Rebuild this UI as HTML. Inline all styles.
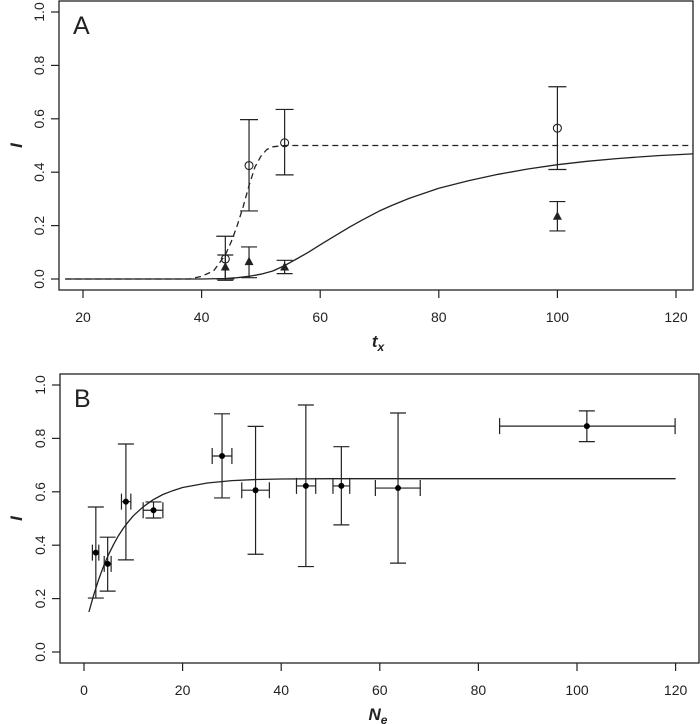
<!DOCTYPE html>
<html><head><meta charset="utf-8"><style>
body{margin:0;background:#fff;}
svg{display:block;font-family:"Liberation Sans",sans-serif;}
text{fill:#222;}
</style></head><body>
<svg id="chart" width="700" height="724" viewBox="0 0 700 724"></svg>
<script>
// Panel A data
const aCircleX = [44, 48, 54, 100];
const aCircleY = [0.075, 0.425, 0.51, 0.565];
const aCircleLo = [0.0, 0.255, 0.39, 0.41];
const aCircleHi = [0.16, 0.597, 0.635, 0.72];
const aTriX = [44, 48, 54, 100];
const aTriY = [0.045, 0.065, 0.045, 0.235];
const aTriLo = [-0.005, 0.005, 0.02, 0.18];
const aTriHi = [0.09, 0.12, 0.07, 0.29];
const aSolidX = [17, 40, 44, 46, 48, 50, 52, 54, 56, 58, 60, 62, 65, 67, 70, 72, 75, 80, 85, 90, 95, 100, 105, 110, 117, 124];
const aSolidY = [0, 0, 0.002, 0.005, 0.01, 0.018, 0.03, 0.05, 0.075, 0.1, 0.128, 0.155, 0.195, 0.22, 0.255, 0.275, 0.302, 0.34, 0.368, 0.392, 0.412, 0.428, 0.441, 0.451, 0.462, 0.47];
const aDashX = [17, 38, 40, 42, 44, 45, 46, 47, 48, 49, 50, 51, 52, 54, 124];
const aDashY = [0, 0, 0.01, 0.03, 0.09, 0.14, 0.2, 0.27, 0.35, 0.42, 0.46, 0.485, 0.495, 0.5, 0.5];
const aXTicks = [20, 40, 60, 80, 100, 120];
const yTicks = [0, 0.2, 0.4, 0.6, 0.8, 1.0];
const yTickLabels = ["0.0", "0.2", "0.4", "0.6", "0.8", "1.0"];
// Panel B data
const bX = [2.4, 4.8, 8.5, 14.1, 28.0, 34.8, 45.0, 52.2, 63.7, 102.0];
const bY = [0.372, 0.33, 0.563, 0.531, 0.734, 0.606, 0.622, 0.622, 0.614, 0.846];
const bXLo = [1.7, 4.1, 7.6, 12.0, 26.0, 32.0, 43.1, 50.5, 59.1, 84.3];
const bXHi = [3.0, 5.5, 9.5, 16.0, 30.0, 37.6, 47.0, 53.9, 68.2, 119.9];
const bYLo = [0.202, 0.228, 0.345, 0.502, 0.577, 0.366, 0.32, 0.476, 0.333, 0.788];
const bYHi = [0.543, 0.43, 0.779, 0.562, 0.892, 0.845, 0.925, 0.769, 0.895, 0.903];
const bCurveX = [1, 2, 3, 4, 5, 6, 7, 8, 9, 10, 12, 14, 16, 18, 20, 25, 30, 35, 40, 50, 120];
const bCurveY = [0.15, 0.216, 0.273, 0.323, 0.366, 0.403, 0.436, 0.464, 0.488, 0.51, 0.544, 0.57, 0.59, 0.604, 0.616, 0.633, 0.642, 0.646, 0.648, 0.649, 0.649];
const bXTicks = [0, 20, 40, 60, 80, 100, 120];

const svg = document.getElementById('chart');
const NS = 'http://www.w3.org/2000/svg';
function mk(tag, attrs, parent) {
  const e = document.createElementNS(NS, tag);
  for (const k in attrs) e.setAttribute(k, attrs[k]);
  (parent || svg).appendChild(e);
  return e;
}
const col = '#222';

function panel(p) {
  const g = mk('g', {});
  
  
  const box = mk('rect', {x: p.left, y: p.top, width: p.right - p.left, height: p.bottom - p.top, fill: 'none', stroke: col, 'stroke-width': 1.3}, g);
  
  
  p.xTicks.forEach(v => {
    const x = p.sx(v);
    const t = mk('line', {x1: x, x2: x, y1: p.bottom, y2: p.bottom + 8, stroke: col, 'stroke-width': 1.2}, g);
    
    
    const l = mk('text', {x: x, y: p.bottom + 32, 'text-anchor': 'middle', 'font-size': 14}, g);
    l.textContent = String(v);
    
    
  });
  yTicks.forEach((v, i) => {
    const y = p.sy(v);
    const t = mk('line', {x1: p.left - 8, x2: p.left, y1: y, y2: y, stroke: col, 'stroke-width': 1.2}, g);
    
    
    const l = mk('text', {x: 0, y: 0, 'text-anchor': 'middle', 'font-size': 14, transform: `translate(${p.left - 15},${y}) rotate(-90)`}, g);
    l.textContent = yTickLabels[i];
    
    
  });
  const tag = mk('text', {x: p.left + 14, y: p.top + 33, 'font-size': 25}, g);
  tag.textContent = p.letter;
  
  
  const yl = mk('text', {x: 0, y: 0, 'text-anchor': 'middle', 'font-size': 17, 'font-weight': 'bold', 'font-style': 'italic', transform: `translate(22,${(p.top + p.bottom) / 2}) rotate(-90)`}, g);
  yl.textContent = 'I';
  
  
  const xl = mk('text', {x: p.xLabelX, y: p.bottom + 57, 'text-anchor': 'middle', 'font-size': 17, 'font-weight': 'bold', 'font-style': 'italic'}, g);
  xl.innerHTML = p.xLabel + '<tspan font-size="12" dy="4">' + p.xSub + '</tspan>';
  
  
  return g;
}
function pathFrom(xs, ys, sx, sy) {
  return xs.map((v, i) => (i ? 'L' : 'M') + sx(v).toFixed(1) + ',' + sy(ys[i]).toFixed(1)).join(' ');
}
function vErr(g, x, y1, y2, w, name) {
  const e = mk('path', {d: `M${x},${y1} L${x},${y2} M${x - w},${y1} L${x + w},${y1} M${x - w},${y2} L${x + w},${y2}`, stroke: col, 'stroke-width': 1.2, fill: 'none'}, g);
  
  
}
function hErr(g, y, x1, x2, h, name) {
  const e = mk('path', {d: `M${x1},${y} L${x2},${y} M${x1},${y - h} L${x1},${y + h} M${x2},${y - h} L${x2},${y + h}`, stroke: col, 'stroke-width': 1.2, fill: 'none'}, g);
  
  
}

// Panel A
const A = {name: 'panel-a', letter: 'A', left: 59, right: 693, top: 1, bottom: 290,
  sx: v => 83 + (v - 20) * 5.93, sy: v => 279 - v * 267, xTicks: aXTicks, xLabel: 't', xSub: 'x', xLabelX: 378};
const gA = panel(A);
const clipA = mk('clipPath', {id: 'clipA'});
mk('rect', {x: A.left, y: A.top, width: A.right - A.left, height: A.bottom - A.top}, clipA);
const solidA = mk('path', {d: pathFrom(aSolidX, aSolidY, A.sx, A.sy), fill: 'none', stroke: col, 'stroke-width': 1.3, 'stroke-linejoin': 'round', 'clip-path': 'url(#clipA)'}, gA);


const dashA = mk('path', {d: pathFrom(aDashX, aDashY, A.sx, A.sy), fill: 'none', stroke: col, 'stroke-width': 1.3, 'stroke-dasharray': '6,4', 'clip-path': 'url(#clipA)'}, gA);


aTriX.forEach((v, i) => {
  const x = A.sx(v), y = A.sy(aTriY[i]);
  vErr(gA, x, A.sy(aTriHi[i]), A.sy(aTriLo[i]), 8, 'triangle-error-bar');
  const t = mk('path', {d: `M${x},${y - 5} L${x + 4.5},${y + 3.5} L${x - 4.5},${y + 3.5} Z`, fill: col}, gA);
  
  
});
aCircleX.forEach((v, i) => {
  const x = A.sx(v), y = A.sy(aCircleY[i]);
  vErr(gA, x, A.sy(aCircleHi[i]), A.sy(aCircleLo[i]), 9, 'circle-error-bar');
  const c = mk('circle', {cx: x, cy: y, r: 4, fill: 'none', stroke: col, 'stroke-width': 1.1}, gA);
  
  
});

// Panel B
const B = {name: 'panel-b', letter: 'B', left: 60, right: 699, top: 374, bottom: 663,
  sx: v => 84 + v * 4.93, sy: v => 652 - v * 267, xTicks: bXTicks, xLabel: 'N', xSub: 'e', xLabelX: 378};
const gB = panel(B);
const curveB = mk('path', {d: pathFrom(bCurveX, bCurveY, B.sx, B.sy), fill: 'none', stroke: col, 'stroke-width': 1.3, 'stroke-linejoin': 'round'}, gB);


bX.forEach((v, i) => {
  const x = B.sx(v), y = B.sy(bY[i]);
  vErr(gB, x, B.sy(bYHi[i]), B.sy(bYLo[i]), 8, 'y-error-bar');
  hErr(gB, y, B.sx(bXLo[i]), B.sx(bXHi[i]), 8, 'x-error-bar');
  const c = mk('circle', {cx: x, cy: y, r: 3, fill: '#000'}, gB);
  
  
});
</script>
</body></html>
